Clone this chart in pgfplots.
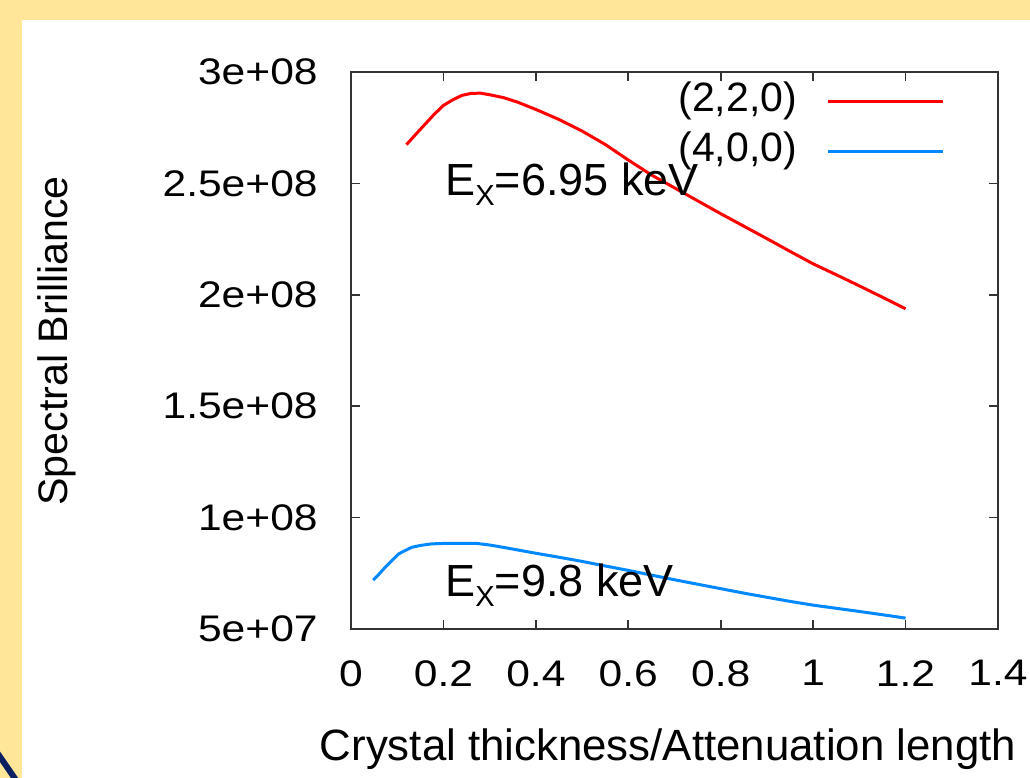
\documentclass[border=0pt]{standalone}
\usepackage{fontspec}
\setmainfont{Liberation Sans}
\newfontfamily\tickfont{Liberation Sans}[FakeStretch=1.15]
\usepackage{pgfplots}
\pgfplotsset{compat=1.18}
\definecolor{slideyellow}{RGB}{255,230,153}
\definecolor{slidenavy}{RGB}{10,32,96}
\definecolor{gpred}{RGB}{255,0,0}
\definecolor{gpblue}{RGB}{0,136,255}
\begin{document}
\begin{tikzpicture}
\useasboundingbox (-175.5bp,-74.5bp) rectangle (339.5bp,314.5bp);
\fill[slideyellow] (-175.5bp,-74.5bp) rectangle (339.5bp,314.5bp);
\fill[white] (-164.5bp,-74.5bp) rectangle (339.5bp,304.5bp);
\draw[slidenavy, line width=3bp] (-177.5bp,-61bp) -- (-166.5bp,-77bp);
\begin{axis}[
  scale only axis,
  width=323.5bp, height=278.5bp,
  xmin=0, xmax=1.4, ymin=5e7, ymax=3e8,
  axis line style={black!80, line width=0.8bp},
  tick style={black!80, line width=0.8bp},
  major tick length=4.5bp,
  tick align=inside,
  xtick={0,0.2,0.4,0.6,0.8,1,1.2,1.4},
  xticklabels={0,0.2,0.4,0.6,0.8,1,1.2,1.4},
  ytick={5e7,1e8,1.5e8,2e8,2.5e8,3e8},
  yticklabels={5e+07,1e+08,1.5e+08,2e+08,2.5e+08,3e+08},
  scaled y ticks=false, scaled x ticks=false,
  ticklabel style={font=\tickfont\fontsize{18.5bp}{20bp}\selectfont},
  xticklabel style={anchor=north, inner sep=0pt, yshift=-15.5bp},
  yticklabel style={anchor=east, inner sep=0pt, xshift=-16.5bp},
  legend plot pos=right,
  legend cell align=right,
  legend image code/.code={\draw[#1] (0bp,0bp) -- (57.5bp,0bp);},
  legend style={draw=none, fill=none, inner sep=0pt, outer sep=0pt,
    at={(rel axis cs:0.918,1)}, anchor=north east, yshift=-5.1bp,
    font=\fontsize{20.5bp}{22bp}\selectfont,
    column sep=15bp, row sep=6.2bp,
    nodes={inner sep=0pt, text height=14.6bp, text depth=4.2bp}},
  clip=false,
]
\addplot[gpred, line width=1.5bp] coordinates {
(0.12,2.674e8) (0.14,2.72e8) (0.16,2.765e8) (0.18,2.81e8) (0.20,2.85e8)
(0.22,2.875e8) (0.24,2.895e8) (0.26,2.904e8) (0.28,2.905e8) (0.30,2.898e8)
(0.33,2.885e8) (0.36,2.865e8) (0.40,2.832e8) (0.45,2.787e8) (0.50,2.735e8)
(0.55,2.675e8) (0.60,2.605e8) (0.65,2.538e8) (0.70,2.48e8) (0.75,2.422e8)
(0.80,2.364e8) (0.85,2.308e8) (0.90,2.252e8) (0.95,2.195e8) (1.00,2.139e8)
(1.05,2.09e8) (1.10,2.04e8) (1.15,1.989e8) (1.20,1.937e8)};
\addlegendentry{(2,2,0)}
\addplot[gpblue, line width=1.5bp] coordinates {
(0.048,7.2e7) (0.06,7.45e7) (0.074,7.77e7) (0.09,8.1e7) (0.103,8.37e7)
(0.12,8.55e7) (0.132,8.67e7) (0.15,8.75e7) (0.174,8.82e7) (0.20,8.84e7)
(0.273,8.84e7) (0.30,8.77e7) (0.331,8.66e7) (0.36,8.55e7) (0.40,8.40e7)
(0.45,8.22e7) (0.496,8.05e7) (0.55,7.83e7) (0.60,7.63e7) (0.65,7.42e7)
(0.70,7.21e7) (0.75,7.01e7) (0.80,6.81e7) (0.85,6.61e7) (0.909,6.39e7)
(0.95,6.24e7) (1.00,6.07e7) (1.05,5.93e7) (1.099,5.79e7) (1.15,5.64e7)
(1.20,5.49e7)};
\addlegendentry{(4,0,0)}
\node[anchor=base west, inner sep=0pt, font=\fontsize{22.5bp}{24bp}\selectfont]
  at (axis cs:0.2034,2.445e8) {E\raisebox{-5bp}{\fontsize{14.5bp}{14.5bp}\selectfont X}=6.95 keV};
\node[anchor=base west, inner sep=0pt, font=\fontsize{22.5bp}{24bp}\selectfont]
  at (axis cs:0.2034,6.45e7) {E\raisebox{-5bp}{\fontsize{14.5bp}{14.5bp}\selectfont X}=9.8 keV};
\end{axis}
\node[anchor=base, inner sep=0pt, font=\fontsize{21.9bp}{23bp}\selectfont] at (158.5bp,-65.5bp) {Crystal thickness/Attenuation length};
\node[anchor=base, rotate=90, inner sep=0pt, font=\fontsize{20.6bp}{22bp}\selectfont] at (-141.5bp,144bp) {Spectral Brilliance};
\end{tikzpicture}
\end{document}
